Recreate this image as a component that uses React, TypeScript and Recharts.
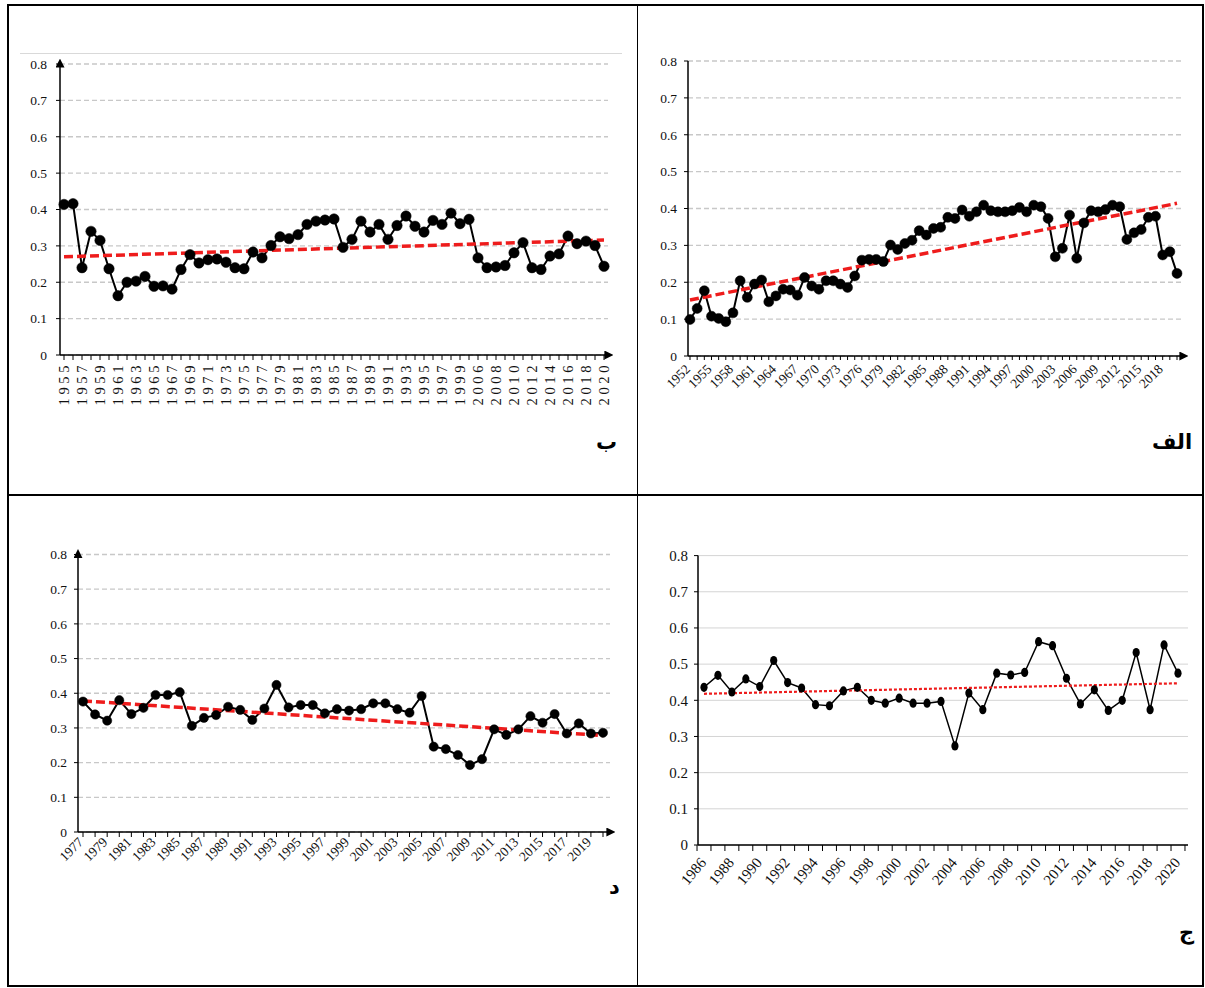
import React from 'react';
import { LineChart, Line, XAxis, YAxis, CartesianGrid, ReferenceLine } from 'recharts';

// ---------------- DATA ----------------
const yTicks = [0, 0.1, 0.2, 0.3, 0.4, 0.5, 0.6, 0.7, 0.8];

// Panel "ب" (top-left)
const yearsB = [
  1955, 1956, 1957, 1958, 1959, 1960, 1961, 1962, 1963, 1964, 1965, 1966, 1967, 1968, 1969,
  1970, 1971, 1972, 1973, 1974, 1975, 1976, 1977, 1978, 1979, 1980, 1981, 1982, 1983, 1984,
  1985, 1986, 1987, 1988, 1989, 1990, 1991, 1992, 1993, 1994, 1995, 1996, 1997, 1998, 1999,
  2005, 2006, 2007, 2008, 2009, 2010, 2011, 2012, 2013, 2014, 2015, 2016, 2017, 2018, 2019, 2020,
];
const valuesB = [
  0.414, 0.416, 0.24, 0.34, 0.315, 0.237, 0.163, 0.2, 0.203, 0.216, 0.189, 0.19, 0.181, 0.235, 0.276,
  0.253, 0.262, 0.264, 0.255, 0.24, 0.237, 0.283, 0.267, 0.301, 0.325, 0.32, 0.331, 0.359, 0.368, 0.371,
  0.374, 0.296, 0.318, 0.368, 0.338, 0.359, 0.318, 0.356, 0.382, 0.354, 0.338, 0.37, 0.359, 0.39, 0.361,
  0.373, 0.267, 0.24, 0.242, 0.246, 0.281, 0.309, 0.24, 0.235, 0.272, 0.278, 0.327, 0.306, 0.313, 0.301, 0.244,
];
const trendB = [0.27, 0.316];

// Panel "الف" (top-right)
const yearsAlef = [
  1952, 1953, 1954, 1955, 1956, 1957, 1958, 1959, 1960, 1961, 1962, 1963, 1964, 1965, 1966, 1967,
  1968, 1969, 1970, 1971, 1972, 1973, 1974, 1975, 1976, 1977, 1978, 1979, 1980, 1981, 1982, 1983,
  1984, 1985, 1986, 1987, 1988, 1989, 1990, 1991, 1992, 1993, 1994, 1995, 1996, 1997, 1998, 1999,
  2000, 2001, 2002, 2003, 2004, 2005, 2006, 2007, 2008, 2009, 2010, 2011, 2012, 2013, 2014, 2015,
  2016, 2017, 2018, 2019, 2020,
];
const valuesAlef = [
  0.099, 0.129, 0.177, 0.108, 0.102, 0.093, 0.117, 0.204, 0.159, 0.195, 0.206, 0.147, 0.163, 0.181, 0.179, 0.165,
  0.213, 0.19, 0.181, 0.204, 0.204, 0.195, 0.186, 0.217, 0.26, 0.262, 0.262, 0.256, 0.301, 0.289, 0.305, 0.314,
  0.34, 0.328, 0.346, 0.349, 0.376, 0.373, 0.396, 0.379, 0.391, 0.409, 0.394, 0.391, 0.391, 0.394, 0.403, 0.391,
  0.409, 0.405, 0.373, 0.269, 0.292, 0.382, 0.265, 0.361, 0.394, 0.391, 0.397, 0.409, 0.405, 0.316, 0.334, 0.343,
  0.376, 0.379, 0.274, 0.283, 0.224,
];
const trendAlef = [0.152, 0.414];

// Panel "د" (bottom-left)
const yearsDal = [
  1977, 1978, 1979, 1980, 1981, 1982, 1983, 1984, 1985, 1986, 1987, 1988, 1989, 1990, 1991,
  1992, 1993, 1994, 1995, 1996, 1997, 1998, 1999, 2000, 2001, 2002, 2003, 2004, 2005, 2006,
  2007, 2008, 2009, 2010, 2011, 2012, 2013, 2014, 2015, 2016, 2017, 2018, 2019, 2020,
];
const valuesDal = [
  0.376, 0.339, 0.321, 0.38, 0.34, 0.358, 0.395, 0.395, 0.403, 0.306, 0.329, 0.337, 0.361, 0.352, 0.323,
  0.356, 0.424, 0.359, 0.366, 0.366, 0.342, 0.354, 0.35, 0.354, 0.371, 0.371, 0.354, 0.344, 0.392, 0.246,
  0.239, 0.222, 0.193, 0.21, 0.296, 0.28, 0.296, 0.334, 0.315, 0.34, 0.284, 0.313, 0.284, 0.286,
];
const trendDal = [0.378, 0.278];

// Panel "ج" (bottom-right)
const yearsJim = [
  1986, 1987, 1988, 1989, 1990, 1991, 1992, 1993, 1994, 1995, 1996, 1997, 1998, 1999, 2000, 2001, 2002, 2003,
  2004, 2005, 2006, 2007, 2008, 2009, 2010, 2011, 2012, 2013, 2014, 2015, 2016, 2017, 2018, 2019, 2020,
];
const valuesJim = [
  0.436, 0.469, 0.423, 0.459, 0.438, 0.51, 0.449, 0.434, 0.388, 0.385, 0.426, 0.436, 0.4, 0.392, 0.406, 0.392, 0.392, 0.397,
  0.274, 0.42, 0.374, 0.475, 0.47, 0.477, 0.562, 0.551, 0.461, 0.39, 0.429, 0.372, 0.4, 0.532, 0.374, 0.553, 0.475,
];
const trendJim = [0.418, 0.447];

// ---------------- HELPERS ----------------
const FONT = '"Liberation Serif", "Times New Roman", serif';

const toData = (years: number[], values: number[]) =>
  years.map((y, i) => ({ year: String(y), v: values[i] }));

type TickOpts = {
  every: number;
  rotate: number;
  dx: number;
  dy: number;
  fontSize: number;
  letterSpacing?: number;
  tickLen: number;
  tickShift?: number;
  lastExtra?: number;
  count: number;
  baseline?: string;
};

const makeTick = (o: TickOpts) => (props: any) => {
  const { x, y, payload, index } = props;
  const show = index % o.every === 0;
  const sx = x + (o.tickShift || 0);
  return (
    <g>
      <line x1={sx} y1={y} x2={sx} y2={y + o.tickLen} stroke="#000" strokeWidth={1} />
      {o.lastExtra && index === o.count - 1 ? (
        <line x1={x + o.lastExtra} y1={y} x2={x + o.lastExtra} y2={y + o.tickLen} stroke="#000" strokeWidth={1} />
      ) : null}
      {show ? (
        <text
          transform={`translate(${x + o.dx},${y + o.dy}) rotate(${o.rotate})`}
          textAnchor="end"
          dominantBaseline={o.baseline || 'auto'}
          fontSize={o.fontSize}
          style={{ fontFamily: FONT }}
          letterSpacing={o.letterSpacing || 0}
          fill="#111"
        >
          {payload.value}
        </text>
      ) : null}
    </g>
  );
};

type PanelProps = {
  left: number;
  top: number;
  width: number;
  height: number;
  margin: { top: number; right: number; bottom: number; left: number };
  yWidth: number;
  xHeight: number;
  pad: { left: number; right: number };
  data: { year: string; v: number }[];
  trend: number[];
  tick: (p: any) => any;
  yFont: number;
  yArrow: boolean;
  xArrow: boolean;
  gridDash: string;
  gridStroke: string;
  gridWidth: number;
  lineWidth: number;
  dot: any;
  trendDash: string;
  trendWidth: number;
  yTickMargin: number;
};

const Panel = (p: PanelProps) => {
  const first = p.data[0].year;
  const last = p.data[p.data.length - 1].year;
  return (
    <div style={{ position: 'absolute', left: p.left, top: p.top, width: p.width, height: p.height }}>
      <LineChart width={p.width} height={p.height} data={p.data} margin={p.margin}>
        <CartesianGrid
          vertical={false}
          stroke={p.gridStroke}
          strokeDasharray={p.gridDash}
          strokeWidth={p.gridWidth}
        />
        <XAxis
          dataKey="year"
          interval={0}
          height={p.xHeight}
          padding={p.pad}
          tickSize={0}
          tickMargin={0}
          tickLine={false}
          tick={p.tick}
          axisLine={{ stroke: '#000', strokeWidth: 1.5, markerEnd: p.xArrow ? 'url(#arrowHead)' : undefined }}
        />
        <YAxis
          domain={[0, 0.8]}
          ticks={yTicks}
          interval={0}
          width={p.yWidth}
          tickSize={4}
          tickMargin={p.yTickMargin}
          tickFormatter={(v: number) => String(v)}
          tick={{ fontSize: p.yFont, fontFamily: FONT, fill: '#111' }}
          tickLine={{ stroke: '#000' }}
          axisLine={{ stroke: '#000', strokeWidth: 1.5, markerStart: p.yArrow ? 'url(#arrowHead)' : undefined }}
        />
        <Line
          dataKey="v"
          stroke="#000"
          strokeWidth={p.lineWidth}
          dot={p.dot}
          activeDot={false}
          isAnimationActive={false}
        />
        <ReferenceLine
          segment={[
            { x: first, y: p.trend[0] },
            { x: last, y: p.trend[1] },
          ]}
          stroke="#ee1c1c"
          strokeWidth={p.trendWidth}
          strokeDasharray={p.trendDash}
        />
      </LineChart>
    </div>
  );
};

const EllipseDot = (props: any) => {
  const { cx, cy, index } = props;
  return <ellipse key={`d${index}`} cx={cx} cy={cy} rx={3.6} ry={4.6} fill="#000" />;
};

const labelStyle: React.CSSProperties = {
  position: 'absolute',
  fontFamily: '"Times New Roman", "DejaVu Sans", serif',
  fontWeight: 'bold',
  fontSize: 21,
  color: '#000',
  lineHeight: 1,
  direction: 'rtl',
};

const lineStyle = (l: number, t: number, w: number, h: number): React.CSSProperties => ({
  position: 'absolute',
  left: l,
  top: t,
  width: w,
  height: h,
  background: '#000',
});

export default function App() {
  const dataB = toData(yearsB, valuesB);
  const dataAlef = toData(yearsAlef, valuesAlef);
  const dataDal = toData(yearsDal, valuesDal);
  const dataJim = toData(yearsJim, valuesJim);

  // spacing for band-boundary ticks in panel ج
  const jimPlotW = 568 - 11 - 50 - 17;
  const jimStep = (jimPlotW - 6 - 10) / (yearsJim.length - 1);

  return (
    <div style={{ position: 'absolute', left: 0, top: 0, width: 1205, height: 988, background: '#fff' }}>
      <svg width={0} height={0} style={{ position: 'absolute' }}>
        <defs>
          <marker
            id="arrowHead"
            viewBox="0 0 10 10"
            refX={4}
            refY={5}
            markerWidth={9}
            markerHeight={9}
            markerUnits="userSpaceOnUse"
            orient="auto-start-reverse"
          >
            <path d="M0,0 L10,5 L0,10 z" fill="#000" />
          </marker>
        </defs>
      </svg>

      {/* light chart border top in panel ب */}
      <div style={{ position: 'absolute', left: 20, top: 53, width: 602, height: 1, background: '#d9d9d9' }} />

      <Panel
        left={0}
        top={0}
        width={637}
        height={495}
        margin={{ top: 64, right: 29, bottom: 80, left: 10 }}
        yWidth={50}
        xHeight={60}
        pad={{ left: 4, right: 4 }}
        data={dataB}
        trend={trendB}
        tick={makeTick({ every: 2, rotate: -90, dx: 0, dy: 7, fontSize: 14.5, letterSpacing: 3.6, tickLen: 5, count: yearsB.length, baseline: 'central' })}
        yFont={13.5}
        yArrow={true}
        xArrow={true}
        gridDash="5 3"
        gridStroke="#c8c8c8"
        gridWidth={1.3}
        lineWidth={2}
        dot={{ r: 5.2, fill: '#000', stroke: '#000', strokeWidth: 0.5 }}
        trendDash="9 4"
        trendWidth={3.5}
        yTickMargin={9}
      />

      <Panel
        left={637}
        top={0}
        width={568}
        height={495}
        margin={{ top: 61, right: 22, bottom: 79, left: 6 }}
        yWidth={45}
        xHeight={60}
        pad={{ left: 2, right: 6 }}
        data={dataAlef}
        trend={trendAlef}
        tick={makeTick({ every: 3, rotate: -45, dx: 1, dy: 14, fontSize: 13.5, tickLen: 4, count: yearsAlef.length })}
        yFont={13.5}
        yArrow={false}
        xArrow={true}
        gridDash="5 3"
        gridStroke="#c8c8c8"
        gridWidth={1.3}
        lineWidth={2}
        dot={{ r: 5, fill: '#000', stroke: '#000', strokeWidth: 0.5 }}
        trendDash="9 4"
        trendWidth={3.5}
        yTickMargin={7}
      />

      <Panel
        left={0}
        top={495}
        width={637}
        height={493}
        margin={{ top: 59.5, right: 27, bottom: 96, left: 28 }}
        yWidth={50}
        xHeight={60}
        pad={{ left: 5, right: 7 }}
        data={dataDal}
        trend={trendDal}
        tick={makeTick({ every: 2, rotate: -45, dx: 1, dy: 11, fontSize: 13.5, tickLen: 5, count: yearsDal.length })}
        yFont={13.5}
        yArrow={true}
        xArrow={true}
        gridDash="5 3"
        gridStroke="#c8c8c8"
        gridWidth={1.3}
        lineWidth={2}
        dot={{ r: 4.6, fill: '#000', stroke: '#000', strokeWidth: 0.5 }}
        trendDash="9 4"
        trendWidth={3.5}
        yTickMargin={7}
      />

      <Panel
        left={637}
        top={495}
        width={568}
        height={493}
        margin={{ top: 60.6, right: 17, bottom: 83, left: 11 }}
        yWidth={50}
        xHeight={60}
        pad={{ left: 6, right: 10 }}
        data={dataJim}
        trend={trendJim}
        tick={makeTick({
          every: 2,
          rotate: -50,
          dx: 3,
          dy: 18,
          fontSize: 15,
          tickLen: 6,
          tickShift: -jimStep / 2,
          lastExtra: jimStep / 2,
          count: yearsJim.length,
        })}
        yFont={15}
        yArrow={false}
        xArrow={false}
        gridDash="0"
        gridStroke="#d4d4d4"
        gridWidth={1}
        lineWidth={1.5}
        dot={<EllipseDot />}
        trendDash="3 2"
        trendWidth={2.2}
        yTickMargin={6}
      />

      {/* table borders */}
      <div style={lineStyle(7, 4, 1197, 1.5)} />
      <div style={lineStyle(7, 985, 1197, 1.5)} />
      <div style={lineStyle(7, 4, 1.5, 982)} />
      <div style={lineStyle(1202, 4, 1.5, 982)} />
      <div style={lineStyle(636.5, 4, 1.5, 982)} />
      <div style={lineStyle(7, 494, 1197, 1.5)} />

      {/* panel labels */}
      <div style={{ ...labelStyle, left: 596, top: 432 }}>ب</div>
      <div style={{ ...labelStyle, left: 1152, top: 432 }}>الف</div>
      <div style={{ ...labelStyle, left: 609, top: 877 }}>د</div>
      <div style={{ ...labelStyle, left: 1179, top: 922 }}>ج</div>
    </div>
  );
}
